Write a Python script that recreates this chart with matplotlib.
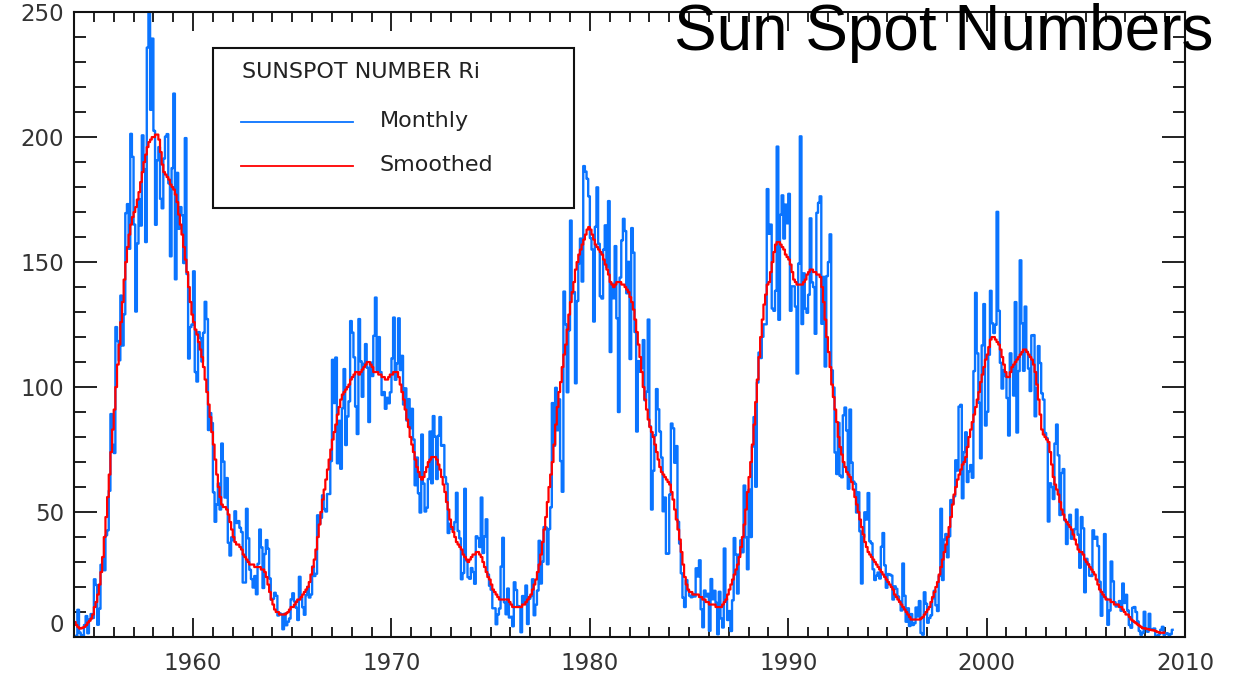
import matplotlib
matplotlib.use('Agg')
import matplotlib.pyplot as plt
import numpy as np
from matplotlib.patches import Rectangle

first_year = 1954

# monthly sunspot number Ri, Jan 1954 .. May 2009 (12 values per line)
monthly = [
    0.2, 0.5, 10.9, 1.8, 0.8, 0.2, 4.8, 8.4, 1.5, 7.0, 9.2, 7.6,
    23.1, 20.8, 4.9, 11.3, 28.9, 31.7, 26.7, 40.7, 42.7, 58.5, 89.2, 76.9,
    73.6, 124.0, 118.4, 110.7, 136.6, 116.6, 129.1, 169.6, 173.2, 155.3, 201.3, 192.1,
    165.0, 130.2, 157.4, 175.2, 164.6, 200.7, 187.2, 158.0, 235.8, 253.8, 210.9, 239.4,
    202.5, 164.9, 190.7, 196.0, 175.3, 171.5, 191.4, 200.2, 201.2, 181.5, 152.3, 187.6,
    217.4, 143.1, 185.7, 163.3, 172.0, 168.7, 149.6, 199.6, 145.2, 111.4, 124.0, 125.0,
    146.3, 106.0, 102.2, 122.0, 119.6, 110.2, 121.7, 134.1, 127.2, 82.8, 89.6, 85.6,
    57.9, 46.1, 53.0, 61.4, 51.0, 77.4, 70.2, 55.8, 63.6, 37.7, 32.6, 39.9,
    38.7, 50.3, 45.6, 46.4, 43.7, 42.0, 21.8, 21.8, 51.3, 39.5, 26.9, 23.2,
    19.8, 24.4, 17.1, 29.3, 43.0, 35.9, 19.6, 33.2, 38.8, 35.3, 23.4, 14.9,
    15.3, 17.7, 16.5, 8.6, 9.5, 9.1, 3.1, 9.3, 4.7, 6.1, 7.4, 15.1,
    17.5, 14.2, 11.7, 6.8, 24.1, 15.9, 11.9, 8.9, 16.8, 20.1, 15.8, 17.0,
    28.2, 24.4, 25.3, 48.7, 45.3, 47.7, 56.7, 51.2, 50.2, 57.2, 57.2, 70.4,
    110.9, 93.6, 111.8, 69.5, 86.5, 67.3, 91.5, 107.2, 76.8, 88.2, 94.3, 126.4,
    121.8, 111.9, 92.2, 81.2, 127.2, 110.3, 96.1, 109.3, 117.2, 107.7, 86.0, 109.8,
    104.4, 120.5, 135.8, 106.8, 120.0, 106.0, 96.8, 98.0, 91.3, 95.7, 93.5, 97.9,
    111.5, 127.8, 102.9, 109.5, 127.5, 106.8, 112.5, 93.0, 99.5, 86.6, 95.2, 83.5,
    91.3, 79.0, 60.7, 71.8, 57.5, 49.8, 81.0, 61.4, 50.2, 51.7, 63.2, 82.2,
    61.5, 88.4, 80.1, 63.2, 80.5, 88.0, 76.5, 76.8, 64.0, 61.3, 41.6, 45.3,
    43.4, 42.9, 46.0, 57.7, 42.4, 39.5, 23.1, 25.6, 59.3, 30.7, 23.9, 23.3,
    27.6, 26.0, 21.3, 40.3, 39.5, 36.0, 55.8, 33.6, 40.2, 47.1, 25.0, 20.5,
    18.9, 11.5, 11.5, 5.1, 9.0, 11.4, 28.2, 39.7, 13.9, 9.1, 19.4, 7.8,
    8.1, 4.3, 21.9, 18.8, 12.4, 12.2, 1.9, 16.4, 13.5, 20.6, 5.2, 15.3,
    16.4, 23.1, 8.7, 12.9, 18.6, 38.5, 21.4, 30.1, 44.0, 43.8, 29.1, 43.2,
    51.9, 93.6, 76.5, 99.7, 82.7, 95.1, 70.4, 58.1, 138.2, 125.1, 97.9, 122.7,
    166.6, 137.5, 138.0, 101.5, 134.4, 149.5, 159.4, 142.2, 188.4, 186.2, 183.3, 176.3,
    159.6, 155.0, 126.2, 164.1, 179.9, 157.3, 136.3, 135.4, 155.0, 164.7, 147.9, 174.4,
    114.0, 141.3, 135.5, 156.4, 127.5, 90.0, 143.8, 158.7, 167.3, 162.4, 137.5, 150.1,
    111.2, 163.6, 153.8, 122.0, 82.2, 110.4, 106.1, 107.6, 118.8, 94.7, 98.1, 127.0,
    84.3, 51.0, 66.5, 80.7, 99.2, 91.1, 82.2, 71.8, 50.3, 55.8, 33.3, 33.4,
    57.0, 85.4, 83.5, 69.7, 76.4, 46.1, 37.4, 25.5, 15.7, 12.0, 22.8, 18.7,
    16.5, 15.9, 17.2, 16.2, 27.5, 24.2, 30.7, 11.1, 3.9, 18.6, 16.2, 17.3,
    2.5, 23.2, 15.1, 18.5, 13.7, 1.1, 18.1, 7.4, 3.8, 35.4, 15.2, 6.8,
    10.4, 2.4, 14.7, 39.6, 33.0, 17.4, 33.0, 38.7, 33.9, 60.6, 39.9, 27.1,
    59.0, 40.0, 76.2, 88.0, 60.1, 101.8, 113.8, 111.6, 120.1, 125.1, 125.1, 179.2,
    161.3, 165.0, 131.4, 130.5, 138.5, 196.2, 126.9, 168.9, 176.7, 159.4, 173.0, 165.5,
    177.3, 130.5, 140.3, 140.3, 132.2, 105.4, 149.4, 200.3, 125.2, 145.5, 131.4, 129.7,
    136.9, 167.5, 141.9, 140.0, 121.3, 169.7, 173.7, 176.3, 125.3, 144.1, 108.2, 144.4,
    150.0, 161.1, 106.7, 99.8, 73.8, 65.2, 85.7, 64.5, 63.9, 88.7, 91.8, 82.6,
    59.3, 91.0, 69.8, 62.2, 61.3, 49.8, 57.9, 42.3, 21.4, 40.0, 49.9, 47.0,
    57.6, 38.3, 37.5, 27.1, 22.8, 24.5, 25.8, 23.4, 36.1, 41.6, 28.7, 19.7,
    25.2, 25.0, 24.6, 15.0, 20.3, 19.3, 16.2, 14.3, 10.6, 29.4, 16.5, 6.1,
    11.5, 4.4, 9.2, 4.8, 5.5, 11.8, 8.2, 14.4, 1.6, 0.9, 17.9, 13.3,
    5.7, 7.6, 8.7, 15.5, 18.5, 12.7, 10.4, 24.4, 51.3, 22.8, 39.0, 41.2,
    31.9, 40.3, 54.8, 53.4, 56.3, 70.7, 66.6, 92.2, 92.9, 55.5, 74.0, 81.9,
    62.0, 66.3, 68.8, 63.7, 106.4, 137.7, 113.5, 93.7, 71.5, 116.7, 133.2, 84.6,
    90.1, 112.9, 138.5, 125.5, 121.6, 124.9, 170.1, 130.5, 109.7, 99.4, 106.8, 104.4,
    95.6, 80.6, 113.5, 107.7, 96.6, 134.0, 81.8, 106.4, 150.7, 125.5, 106.5, 132.2,
    114.1, 107.4, 98.4, 120.7, 120.8, 88.3, 99.6, 116.4, 109.6, 97.5, 95.0, 81.6,
    79.5, 46.2, 61.5, 60.0, 55.2, 77.4, 85.0, 72.7, 48.8, 65.6, 67.2, 46.7,
    37.2, 46.0, 48.9, 39.3, 41.5, 43.2, 51.0, 40.9, 27.7, 48.0, 43.5, 17.9,
    31.3, 29.2, 24.5, 24.4, 42.7, 39.3, 40.1, 36.4, 22.1, 8.5, 18.0, 41.2,
    15.3, 4.9, 10.6, 30.2, 22.3, 13.9, 12.2, 12.9, 14.4, 10.5, 21.4, 13.6,
    16.9, 10.6, 4.8, 3.7, 11.7, 12.0, 10.0, 6.2, 2.4, 0.9, 1.7, 10.1,
    3.3, 2.1, 9.3, 2.9, 3.2, 3.4, 0.5, 0.5, 1.1, 2.9, 4.1, 0.8,
    1.5, 1.4, 0.7, 1.2, 2.9,
]

# 13-month smoothed Ri, Jan 1954 .. Dec 2008
smoothed = [
    6, 4.8, 4, 3.4, 3.5, 3.8, 4.1, 4.8, 5.8, 6.5, 7.4, 9,
    12, 14, 17, 21, 26, 32, 40, 48, 56, 65, 74, 83,
    91, 100, 109, 117, 126, 134, 143, 150, 156, 161, 165, 168,
    170, 172, 175, 178, 182, 186, 190, 193, 196, 198, 199, 200,
    200, 201, 201, 199, 194, 189, 186, 185, 184, 183, 181, 180,
    179, 177, 174, 169, 165, 161, 156, 151, 146, 140, 134, 129,
    126, 123, 121, 118, 115, 112, 108, 103, 98, 93, 88, 82,
    77, 71, 65, 60, 56, 53, 52, 52, 51, 49, 46, 43,
    40, 38, 37, 37, 36, 35, 33, 32, 31, 30, 29, 29,
    29, 28, 28, 28, 28, 27, 27, 26, 24, 21, 18, 15,
    13, 11, 10, 10, 9, 9, 9, 9, 9.5, 10, 11, 12,
    12, 13, 14, 15, 15, 16, 17, 18, 19, 20, 22, 25,
    28, 31, 35, 40, 45, 50, 55, 59, 63, 67, 71, 75,
    79, 82, 85, 89, 92, 95, 97, 98, 99, 100, 101, 103,
    104, 105, 106, 106, 105, 106, 107, 108, 109, 110, 110, 109,
    108, 106, 106, 106, 105, 105, 104, 104, 103, 103, 104, 105,
    105, 106, 106, 106, 104, 101, 98, 95, 91, 87, 84, 80,
    77, 74, 71, 68, 66, 64, 63, 64, 66, 68, 70, 71,
    72, 72, 72, 71, 69, 67, 64, 61, 58, 54, 51, 47,
    44, 42, 40, 38, 37, 36, 35, 33, 32, 31, 30, 31,
    32, 33, 33, 34, 34, 33, 32, 30, 28, 26, 24, 23,
    21, 19, 18, 17, 16, 15, 15, 15, 15, 15, 15, 14,
    13, 12, 12, 12, 12, 12, 12, 13, 13, 14, 15, 16,
    17, 19, 21, 23, 26, 29, 33, 38, 43, 48, 54, 60,
    65, 70, 77, 85, 92, 98, 102, 108, 113, 117, 123, 129,
    134, 138, 142, 147, 150, 153, 155, 157, 159, 161, 163, 164,
    163, 161, 159, 157, 156, 155, 154, 153, 151, 149, 147, 145,
    142, 141, 140, 141, 142, 142, 142, 141, 141, 140, 139, 138,
    136, 134, 131, 127, 122, 117, 112, 106, 100, 95, 91, 87,
    84, 82, 80, 77, 74, 71, 68, 66, 65, 64, 63, 62,
    61, 58, 55, 51, 47, 43, 39, 34, 29, 24, 21, 19,
    18, 18, 17, 17, 17, 17, 16, 16, 15, 15, 14, 14,
    13, 13, 13, 13, 12, 12, 12, 12, 13, 14, 15, 17,
    19, 21, 23, 25, 27, 29, 32, 36, 40, 45, 51, 58,
    64, 70, 77, 85, 94, 103, 112, 120, 127, 133, 137, 141,
    142, 146, 150, 154, 157, 158, 158, 157, 156, 155, 153, 152,
    151, 149, 146, 143, 142, 141, 141, 141, 141, 142, 143, 145,
    146, 147, 147, 146, 146, 145, 145, 144, 140, 134, 127, 120,
    114, 108, 101, 96, 91, 86, 80, 76, 73, 70, 68, 66,
    65, 64, 62, 59, 56, 53, 50, 47, 44, 41, 38, 36,
    34, 33, 32, 31, 30, 29, 28, 27, 26, 25, 24, 23,
    22, 21, 20, 19, 17, 16, 15, 14, 13, 12, 11, 10,
    9, 8, 7, 7, 7, 7, 7, 7, 7.5, 8, 9, 10,
    11, 12, 14, 16, 18, 20, 22, 25, 28, 31, 34, 37,
    40, 44, 48, 53, 57, 60, 63, 65, 67, 69, 70, 72,
    76, 80, 83, 86, 89, 92, 95, 98, 102, 105, 108, 111,
    113, 116, 119, 120, 120, 119, 118, 117, 115, 112, 109, 106,
    104, 104, 106, 108, 109, 110, 111, 112, 113, 114, 115, 115,
    114, 113, 112, 111, 109, 106, 101, 95, 89, 83, 81, 80,
    79, 78, 74, 69, 64, 61, 59, 57, 54, 51, 49, 47,
    46, 45, 44, 43, 41, 39, 37, 35, 34, 34, 33, 31,
    30, 29, 28, 27, 26, 25, 23, 21, 19, 18, 17, 16,
    15, 15, 15, 14, 14, 13, 13, 13, 12, 12, 11, 10,
    9, 9, 8, 7, 6.5, 6, 5.5, 5, 4.5, 4, 3.5, 3.5,
    3.3, 3.2, 3, 2.8, 2.7, 2.6, 2.3, 2, 1.8, 1.7, 1.7, 1.8,
]

t_monthly = first_year + (np.arange(len(monthly)) + 0.5) / 12.0
t_smoothed = first_year + (np.arange(len(smoothed)) + 0.5) / 12.0

fig = plt.figure(figsize=(12.34, 6.8), dpi=100)
ax = fig.add_axes([0.06, 0.0632, 0.9003, 0.919])

ax.step(t_monthly, monthly, where='mid', color='#0a74ff', lw=1.7)
ax.step(t_smoothed, smoothed, where='mid', color='#ff0000', lw=1.6)

ax.set_xlim(1954, 2010)
ax.set_ylim(0, 250)
ax.set_xticks(np.arange(1960, 2011, 10))
ax.set_xticks(np.arange(1954, 2011, 1), minor=True)
ax.set_yticks(np.arange(0, 251, 50))
ax.set_yticks(np.arange(0, 251, 10), minor=True)

ax.tick_params(which='both', direction='in', top=True, right=True,
               colors='#111111', labelcolor='#333333', labelsize=16.5, width=1.3)
ax.tick_params(axis='x', which='major', length=14, pad=11)
ax.tick_params(axis='x', which='minor', length=7)
ax.tick_params(axis='y', which='major', length=16.5, pad=7)
ax.tick_params(axis='y', which='minor', length=8.5)
for s in ax.spines.values():
    s.set_linewidth(1.5)
    s.set_color('#111111')

ylabels = ax.get_yticklabels()
ylabels[0].set_va('bottom')

# legend box drawn like the original plot
ax.add_patch(Rectangle((0.125, 0.6864), 0.325, 0.256, transform=ax.transAxes,
                       fill=False, edgecolor='#111111', lw=1.5, zorder=5))
ax.text(0.151, 0.904, 'SUNSPOT NUMBER Ri', transform=ax.transAxes,
        fontsize=16, color='#222222', va='center', ha='left', zorder=6)
ax.plot([0.150, 0.251], [0.824, 0.824], transform=ax.transAxes,
        color='#0a74ff', lw=1.3, zorder=6)
ax.plot([0.150, 0.251], [0.754, 0.754], transform=ax.transAxes,
        color='#ff0000', lw=1.3, zorder=6)
ax.text(0.275, 0.825, 'Monthly', transform=ax.transAxes,
        fontsize=16, color='#222222', va='center', ha='left', zorder=6)
ax.text(0.275, 0.756, 'Smoothed', transform=ax.transAxes,
        fontsize=16, color='#222222', va='center', ha='left', zorder=6)

fig.text(0.983, 1 - 50 / 680, 'Sun Spot Numbers', family='Liberation Sans',
         fontsize=46, color='black', ha='right', va='baseline', zorder=10)

fig.savefig('out.png', dpi=100)
